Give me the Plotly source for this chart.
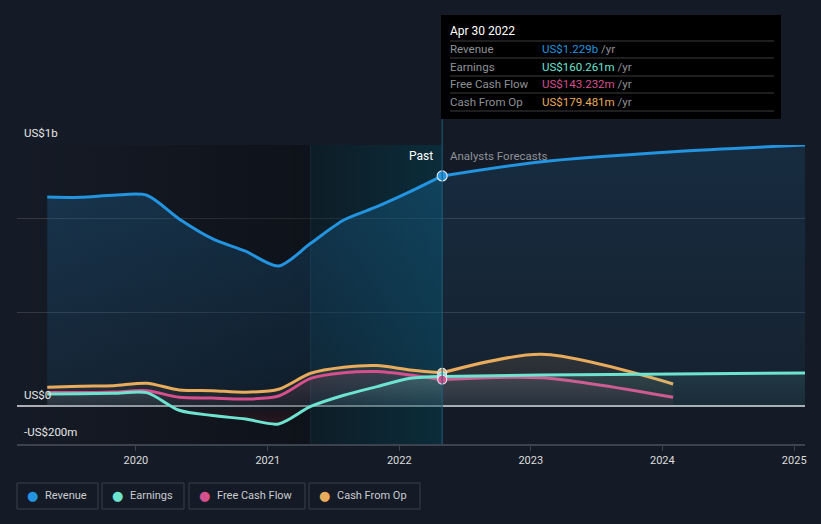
import plotly.graph_objects as go

# ---------------- data (US$ millions) ----------------
past_dates = ["2019-04-30", "2019-07-31", "2019-10-31", "2020-01-31", "2020-04-30",
              "2020-07-31", "2020-10-31", "2021-01-31", "2021-04-30", "2021-07-31",
              "2021-10-31", "2022-01-31", "2022-04-30"]
revenue_past = [1117, 1115, 1126, 1126, 1000, 895, 828, 749, 870, 994, 1065, 1145, 1229]
earnings_past = [67, 68, 70, 74, -20, -48, -67, -93, 0, 60, 106, 150, 160.261]
fcf_past = [74, 74, 77, 84, 49, 45, 40, 56, 150, 180, 186, 168, 143.232]
cfo_past = [102, 108, 111, 124, 88, 84, 76, 92, 177, 209, 218, 195, 179.481]

fc_dates = ["2022-04-30", "2023-01-31", "2024-01-31", "2025-01-31"]
revenue_fc = [1229, 1305, 1358, 1394]
earnings_fc = [160.261, 168, 173, 179]
cash_fc_dates = ["2022-04-30", "2023-01-31", "2024-01-31"]
fcf_fc = [143.232, 153, 49]
cfo_fc = [179.481, 278, 120]

band_start = "2021-04-30"
tooltip_date = "Apr 30 2022"
tooltip_rows = [("Revenue", "US$1.229b"), ("Earnings", "US$160.261m"),
                ("Free Cash Flow", "US$143.232m"), ("Cash From Op", "US$179.481m")]
series_names = ["Revenue", "Earnings", "Free Cash Flow", "Cash From Op"]
year_ticks = ["2020", "2021", "2022", "2023", "2024", "2025"]
y_labels = [("US$1b", 133), ("US$0", 395), ("-US$200m", 432)]

# ---------------- style ----------------
BG = "#151b26"
C_REV = "#2394df"
C_EARN = "#6de3d0"
C_FCF = "#d5508c"
C_CFO = "#e9ac5c"
colors = [C_REV, C_EARN, C_FCF, C_CFO]
FONT = "Roboto"
FS = 11.5
W, H = 821, 524
L, R, T, B = 17, 16, 145, 80
PW, PH = W - L - R, H - T - B
X_RANGE = ["2019-02-05", "2025-01-31"]
Y_RANGE = [-200, 1394]


def px(x):
    return (x - L) / PW


def py(y):
    return (H - B - y) / PH


def rgba(hexc, a):
    h = hexc.lstrip("#")
    return "rgba(%d,%d,%d,%.3f)" % (int(h[0:2], 16), int(h[2:4], 16), int(h[4:6], 16), a)


fig = go.Figure()

# dark "past" gradient overlay
fig.add_trace(go.Scatter(
    x=[X_RANGE[0], band_start, band_start, X_RANGE[0], X_RANGE[0]],
    y=[Y_RANGE[0], Y_RANGE[0], Y_RANGE[1], Y_RANGE[1], Y_RANGE[0]],
    mode="lines", line=dict(width=0), fill="toself",
    fillgradient=dict(type="horizontal",
                      colorscale=[[0, "rgba(0,0,0,0)"], [1, "rgba(0,0,0,0.33)"]]),
    hoverinfo="skip", showlegend=False))
# last-year band
last = past_dates[-1]
fig.add_trace(go.Scatter(
    x=[band_start, last, last, band_start, band_start],
    y=[Y_RANGE[0], Y_RANGE[0], Y_RANGE[1], Y_RANGE[1], Y_RANGE[0]],
    mode="lines", line=dict(width=0), fill="toself",
    fillcolor="rgba(0,0,0,0.33)", hoverinfo="skip", showlegend=False))
fig.add_trace(go.Scatter(
    x=[band_start, last, last, band_start, band_start],
    y=[Y_RANGE[0], Y_RANGE[0], Y_RANGE[1], Y_RANGE[1], Y_RANGE[0]],
    mode="lines", line=dict(width=0), fill="toself",
    fillgradient=dict(type="horizontal",
                      colorscale=[[0, "rgba(0,150,190,0.08)"], [1, "rgba(0,150,190,0.2)"]]),
    hoverinfo="skip", showlegend=False))


def add_series(x, y, color, a_lo, a_hi, top, neg=False):
    if neg:
        cs = [[0, "rgba(200,40,55,0.16)"], [0.3, "rgba(200,40,55,0.05)"],
              [0.33, rgba(color, 0.02)], [1, rgba(color, a_hi)]]
        grad = dict(type="vertical", colorscale=cs, start=-100, stop=top)
    else:
        grad = dict(type="vertical", colorscale=[[0, rgba(color, a_lo)], [1, rgba(color, a_hi)]],
                    start=0, stop=top)
    fig.add_trace(go.Scatter(
        x=x, y=y, mode="lines",
        line=dict(color=color, width=3, shape="spline", smoothing=0.8),
        fill="tozeroy", fillgradient=grad, hoverinfo="skip", showlegend=False))


# revenue
add_series(past_dates, revenue_past, C_REV, 0.08, 0.22, 1250)
add_series(fc_dates, revenue_fc, C_REV, 0.05, 0.14, 1400)
# cash from op
add_series(past_dates, cfo_past, C_CFO, 0.03, 0.12, 220)
add_series(cash_fc_dates, cfo_fc, C_CFO, 0.03, 0.12, 280)
# free cash flow
add_series(past_dates, fcf_past, C_FCF, 0.03, 0.12, 190)
add_series(cash_fc_dates, fcf_fc, C_FCF, 0.03, 0.12, 160)
# earnings
add_series(past_dates, earnings_past, C_EARN, 0.03, 0.18, 165, neg=True)
add_series(fc_dates, earnings_fc, C_EARN, 0.05, 0.12, 180)

# highlight markers at the latest reported date
for val, col, size in [(revenue_past[-1], C_REV, 10), (cfo_past[-1], C_CFO, 9),
                       (earnings_past[-1], C_EARN, 9), (fcf_past[-1], C_FCF, 9)]:
    fig.add_trace(go.Scatter(x=[last], y=[val], mode="markers",
                             marker=dict(color=col, size=size, line=dict(color="#dfe6ee", width=1.2)),
                             hoverinfo="skip", showlegend=False))

shapes = []
annotations = []


def text(x, y, s, color, anchor="left", size=FS, family=FONT):
    annotations.append(dict(xref="paper", yref="paper", x=px(x), y=py(y), text=s,
                            showarrow=False, xanchor=anchor, yanchor="middle", borderpad=0,
                            font=dict(family=family, size=size, color=color)))


# vertical divider lines
shapes.append(dict(type="line", xref="x", yref="paper", x0=last, x1=last,
                   y0=0, y1=py(119), line=dict(color="#1f5f7a", width=1)))
shapes.append(dict(type="line", xref="x", yref="paper", x0=band_start, x1=band_start,
                   y0=0, y1=1, line=dict(color="rgba(70,170,210,0.12)", width=1)))

# tooltip box
shapes.append(dict(type="rect", xref="paper", yref="paper", x0=px(441), x1=px(781),
                   y0=py(119), y1=py(15), fillcolor="#000000", line=dict(width=0), layer="above"))
for yy in [41, 58, 76, 93, 111]:
    shapes.append(dict(type="line", xref="paper", yref="paper", x0=px(450), x1=px(774),
                       y0=py(yy), y1=py(yy), line=dict(color="#3c3c3c", width=1), layer="above"))
text(449, 31, tooltip_date, "#ffffff", size=12)
for i, (lab, val) in enumerate(tooltip_rows):
    yy = [49, 66.5, 84, 101.5][i]
    text(449, yy, lab, "#8e9196")
    text(541, yy, "<span style='color:%s'>%s</span> <span style='color:#8e9196'>/yr</span>" % (colors[i], val),
         colors[i])

# Past / Analysts Forecasts
text(434, 156, "Past", "#ffffff", anchor="right", size=12)
text(449, 156, "Analysts Forecasts", "#8e9196")

# y labels
for txt, yy in y_labels:
    text(23, yy, txt, "#e6e6e6")

# legend boxes
boxes = [(17, 98), (102, 184), (189, 305), (309, 420)]
for (x0, x1), name, col in zip(boxes, series_names, colors):
    shapes.append(dict(type="rect", xref="paper", yref="paper", x0=px(x0), x1=px(x1),
                       y0=py(509), y1=py(483), line=dict(color="#3a404b", width=1),
                       fillcolor="rgba(0,0,0,0)"))
    text(x0 + 9, 496, "●", col, size=13, family="DejaVu Sans")
    text(x0 + 27, 496, name, "#c9ccd1", size=11)

fig.update_layout(
    width=W, height=H, margin=dict(l=L, r=R, t=T, b=B),
    paper_bgcolor=BG, plot_bgcolor=BG,
    showlegend=False, shapes=shapes, annotations=annotations,
    font=dict(family=FONT),
    xaxis=dict(type="date", range=X_RANGE, showgrid=False, zeroline=False,
               tickvals=[y + "-01-01" for y in year_ticks], ticktext=year_ticks,
               ticks="outside", ticklen=5, tickcolor="#3d434e", showline=True,
               linecolor="#3d434e", linewidth=2,
               tickfont=dict(family=FONT, size=11, color="#dcdcdc")),
    yaxis=dict(range=Y_RANGE, showticklabels=False, tickvals=[0, 500, 1000, Y_RANGE[1]],
               showgrid=True, gridcolor="rgba(255,255,255,0.13)", gridwidth=1,
               zeroline=True, zerolinecolor="#aeb0b3", zerolinewidth=2, fixedrange=True),
    hovermode=False,
)

fig.write_html("out.html", config={"displayModeBar": False})
with open("out.html", "r", encoding="utf-8") as f:
    html = f.read()
html = html.replace("<head>", "<head><style>html,body{margin:0;padding:0;background:%s;}</style>" % BG, 1)
with open("out.html", "w", encoding="utf-8") as f:
    f.write(html)
